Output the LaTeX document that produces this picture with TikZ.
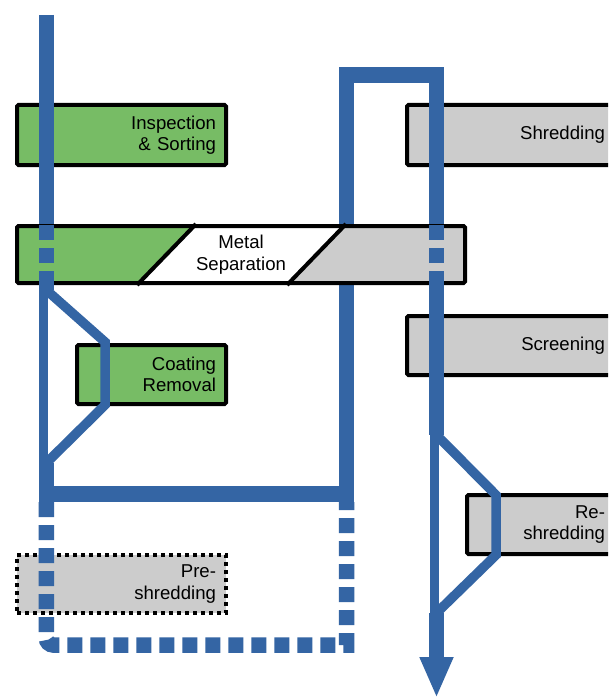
\documentclass[tikz,border=0pt]{standalone}
\usepackage{fontspec}
\setmainfont{Liberation Sans}
\usetikzlibrary{arrows.meta}
\definecolor{flowblue}{HTML}{3465A4}
\definecolor{boxgreen}{HTML}{77BC65}
\definecolor{boxgray}{HTML}{CCCCCC}
\begin{document}
\begin{tikzpicture}[x=1pt,y=-1pt,
  box/.style={draw=black, line width=4pt, rounded corners=1.5pt, inner xsep=10pt, inner ysep=0pt,
    align=right, font=\fontsize{18.6}{21.5}\selectfont},
  gbox/.style={box, fill=boxgreen},
  ybox/.style={box, fill=boxgray},
  main/.style={draw=flowblue, line width=15.5pt, line join=miter},
  branch/.style={draw=flowblue, line width=9.5pt, line join=miter},
  dashflow/.style={draw=flowblue, line width=15.5pt, dash pattern=on 15pt off 8pt},
  slant/.style={draw=black, line width=4pt},
]
\clip (0,0) rectangle (608,698);
\fill[white] (0,0) rectangle (608,698);

% boxes under the flow
\node[gbox, text width=189pt, minimum height=60pt] (insp) at (121.5,135) {Inspection\\\& Sorting};
\node[gbox, text width=129pt, minimum height=59pt] (coat) at (151.5,374.5) {Coating\\Removal};
\node[ybox, text width=188pt, minimum height=60pt] (shred) at (511,135) {Shredding};
\node[ybox, text width=188pt, minimum height=59pt] (screen) at (511,345.5) {Screening};
\node[ybox, text width=128pt, minimum height=59pt] (reshred) at (541,524.5) {Re-\\shredding};
\node[ybox, dash pattern=on 4pt off 4pt, rounded corners=0pt, text width=189pt, minimum height=58pt] (pre) at (121.5,584) {Pre-\\shredding};

% coordinates of the flow
\coordinate (top) at (46.3,15);
\coordinate (s1) at (46.3,290);
\coordinate (b1) at (43.3,290);
\coordinate (b2) at (43.3,463);
\coordinate (c1) at (105,342);
\coordinate (c2) at (105,405);
\coordinate (m1) at (46.3,463);
\coordinate (bl) at (46.3,494);
\coordinate (br) at (346.5,494);
\coordinate (tr1) at (346.5,75);
\coordinate (tr2) at (436.5,75);
\coordinate (s2) at (436.5,435);
\coordinate (d1) at (434.5,435);
\coordinate (d2) at (434.5,613);
\coordinate (r1) at (496,495);
\coordinate (r2) at (496,555);
\coordinate (m2) at (436.5,613);
\coordinate (tip) at (436.5,698);
\coordinate (p1) at (46.3,502);
\coordinate (p2) at (46.3,645);
\coordinate (p3) at (200,645);
\coordinate (p4) at (346.5,645);
\coordinate (p5) at (346.5,502);

% flow lines
\draw[main] (top) -- (s1);
\draw[branch] (b1) -- (b2);
\draw[branch] (s1) -- (c1) -- (c2) -- (m1);
\draw[main] (m1) -- (bl) -- (br) -- (tr1) -- (tr2) -- (s2);
\draw[branch] (d1) -- (d2);
\draw[branch] (s2) -- (r1) -- (r2) -- (m2);
\draw[main, -{Triangle[length=41pt,width=31pt]}] (m2) -- (tip);
\draw[dashflow] (p1) [rounded corners=7pt] -- (p2) -- (p3) [sharp corners] -- (p4) -- (p5);

% metal separation box on top
\fill[white] (17,226) rectangle (465,283);
\fill[boxgreen] (17,226) -- (195,226) -- (139,283) -- (17,283) -- cycle;
\fill[boxgray] (343,226) -- (465,226) -- (465,283) -- (289,283) -- cycle;
\draw[slant] (196,224) -- (137,285);
\draw[slant] (346,224) -- (287,285);
\node[box, align=center, minimum width=448pt, minimum height=57pt] (metal) at (241,254.5) {Metal\\Separation};

\coordinate (ma) at (46.3,225);
\coordinate (mb) at (46.3,286);
\coordinate (mc) at (436.5,225);
\coordinate (md) at (436.5,286);
\draw[dashflow] (ma) -- (mb);
\draw[dashflow] (mc) -- (md);
\end{tikzpicture}
\end{document}
